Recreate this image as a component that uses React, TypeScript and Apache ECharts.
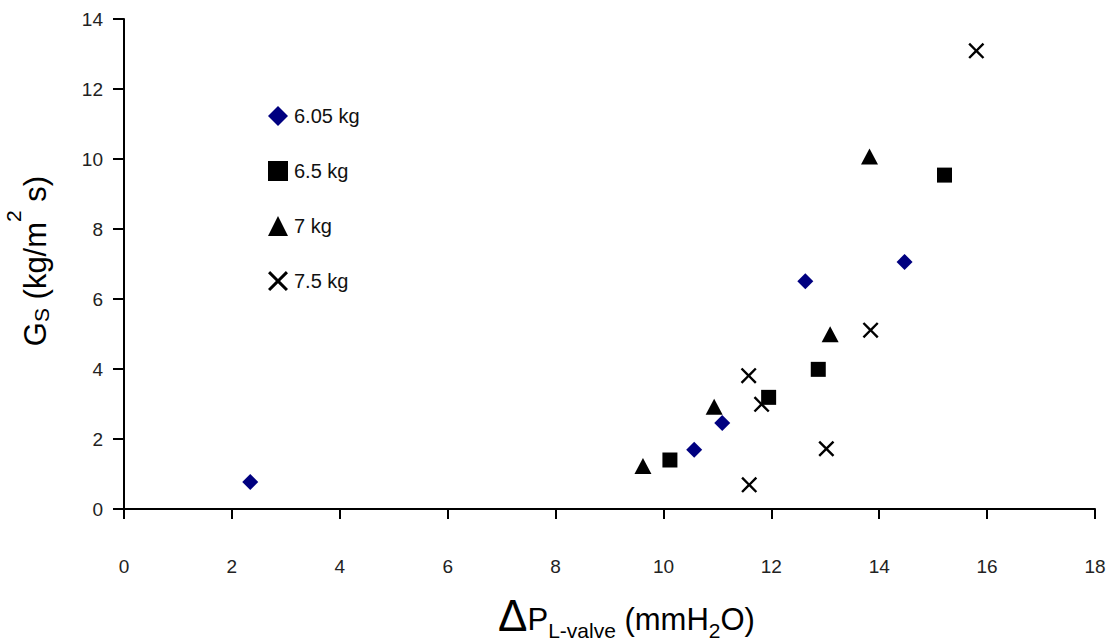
import React, { useEffect, useRef } from "react";
import * as echarts from "echarts";

// ---- data ----
const seriesNames = ["6.05 kg", "6.5 kg", "7 kg", "7.5 kg"];
const data605: number[][] = [
  [2.34, 0.77],
  [10.57, 1.69],
  [11.09, 2.46],
  [12.63, 6.51],
  [14.47, 7.06],
];
const data65: number[][] = [
  [10.12, 1.4],
  [11.95, 3.19],
  [12.87, 3.99],
  [15.21, 9.54],
];
const data7: number[][] = [
  [9.62, 1.23],
  [10.94, 2.92],
  [13.09, 4.99],
  [13.82, 10.07],
];
const data75: number[][] = [
  [11.58, 3.81],
  [11.82, 2.99],
  [13.02, 1.72],
  [11.59, 0.69],
  [15.8, 13.09],
  [13.84, 5.11],
];
const xRange = { min: 0, max: 18, interval: 2 };
const yRange = { min: 0, max: 14, interval: 2 };

const FONT = '"Liberation Sans", Arial, Helvetica, sans-serif';
const CROSS =
  "path://M1.7,0L8,6.3L14.3,0L16,1.7L9.7,8L16,14.3L14.3,16L8,9.7L1.7,16L0,14.3L6.3,8L0,1.7Z";

type Seg = { t: string; size: number; base: number };

function buildRun(segs: Seg[]) {
  const ctx = document.createElement("canvas").getContext("2d")!;
  const widths = segs.map((s) => {
    ctx.font = `${s.size}px ${FONT}`;
    return ctx.measureText(s.t).width;
  });
  const total = widths.reduce((a, b) => a + b, 0);
  let x = -total / 2;
  const children = segs.map((s, i) => {
    const el = {
      type: "text",
      x,
      y: s.base - 0.33 * s.size,
      style: {
        text: s.t,
        fontSize: s.size,
        fontFamily: FONT,
        fill: "#000",
        align: "left",
        verticalAlign: "middle",
      },
    };
    x += widths[i];
    return el;
  });
  return children;
}

export default function App() {
  const ref = useRef<HTMLDivElement>(null);
  useEffect(() => {
    if (!ref.current) return;
    const chart = echarts.init(ref.current, null, { renderer: "svg" });

    const xTitle = buildRun([
      { t: "Δ", size: 44, base: 0 },
      { t: "P", size: 31, base: 0 },
      { t: "L-valve", size: 21, base: 7 },
      { t: " (mmH", size: 31, base: 0 },
      { t: "2", size: 21, base: 7 },
      { t: "O)", size: 31, base: 0 },
    ]);
    const yTitle = buildRun([
      { t: "G", size: 31, base: 0 },
      { t: "S", size: 21, base: 2 },
      { t: " (kg/m", size: 31, base: 0 },
      { t: "2", size: 21, base: -26 },
      { t: " s)", size: 31, base: 0 },
    ]);

    const axisCommon = {
      axisLine: { show: true, onZero: false, lineStyle: { color: "#000", width: 2 } },
      axisTick: { show: true, lineStyle: { color: "#000", width: 2 } },
      splitLine: { show: false },
      axisLabel: { color: "#222", fontSize: 19, fontFamily: FONT },
    };

    chart.setOption({
      animation: false,
      backgroundColor: "#fff",
      grid: { left: 124, top: 19, width: 971, height: 490, containLabel: false },
      xAxis: {
        type: "value",
        ...xRange,
        ...axisCommon,
        axisTick: { ...axisCommon.axisTick, length: 10 },
        axisLabel: { ...axisCommon.axisLabel, margin: 48 },
      },
      yAxis: {
        type: "value",
        ...yRange,
        ...axisCommon,
        axisTick: { ...axisCommon.axisTick, length: 11 },
        axisLabel: { ...axisCommon.axisLabel, margin: 21 },
      },
      legend: {
        orient: "vertical",
        left: 268,
        top: 106,
        padding: 0,
        itemWidth: 20,
        itemHeight: 20,
        itemGap: 35,
        textStyle: {
          color: "#111",
          fontSize: 20,
          fontFamily: FONT,
          lineHeight: 20,
          padding: [0, 0, 0, 1],
        },
        data: seriesNames,
      },
      series: [
        {
          name: seriesNames[0],
          type: "scatter",
          symbol: "diamond",
          symbolSize: 16,
          itemStyle: { color: "#000080", opacity: 1 },
          data: data605,
        },
        {
          name: seriesNames[1],
          type: "scatter",
          symbol: "rect",
          symbolSize: 15,
          itemStyle: { color: "#000", opacity: 1 },
          data: data65,
        },
        {
          name: seriesNames[2],
          type: "scatter",
          symbol: "triangle",
          symbolSize: [17, 16],
          itemStyle: { color: "#000", opacity: 1 },
          data: data7,
        },
        {
          name: seriesNames[3],
          type: "scatter",
          symbol: CROSS,
          symbolSize: 16,
          itemStyle: { color: "#000", opacity: 1 },
          data: data75,
        },
      ],
      graphic: [
        { type: "group", x: 626.5, y: 630, children: xTitle },
        { type: "group", x: 46, y: 261, rotation: Math.PI / 2, children: yTitle },
      ],
    });
    return () => chart.dispose();
  }, []);
  return (
    <div
      ref={ref}
      style={{ position: "fixed", left: 0, top: 0, width: 1113, height: 642, background: "#fff" }}
    />
  );
}
